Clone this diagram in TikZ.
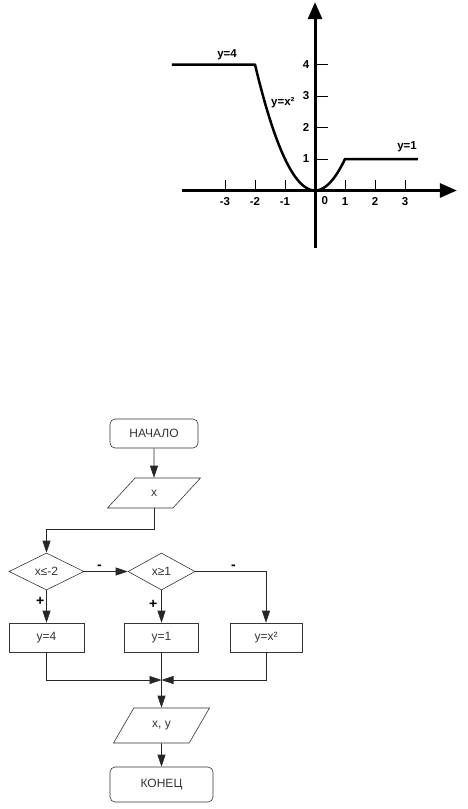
\documentclass[tikz,border=0pt]{standalone}
\usepackage{fontspec}
\setmainfont{Liberation Sans}
\setsansfont{Liberation Sans}
\usetikzlibrary{arrows.meta, shapes.geometric, positioning, calc}

\tikzset{
  blok/.style={draw=black!80, line width=0.6pt, rectangle, minimum width=75pt, minimum height=29pt, inner sep=1pt, text=black!80, font=\fontsize{12}{14}\selectfont},
  termblok/.style={blok, rounded corners=5pt},
  dannye/.style={draw=black!80, line width=0.6pt, trapezium, trapezium left angle=55, trapezium right angle=125, trapezium stretches=true, minimum width=93pt, minimum height=30pt, inner sep=1pt, text=black!80, font=\fontsize{12}{14}\selectfont},
  uslovie/.style={draw=black!80, line width=0.6pt, diamond, minimum width=75pt, minimum height=37pt, inner sep=0pt, text=black!80, font=\fontsize{12}{14}\selectfont},
  strelka/.style={draw=black!85, line width=0.6pt, -{Triangle[length=12pt,width=8pt]}},
  znak/.style={font=\fontsize{14}{16}\bfseries, inner sep=1pt}
}

\begin{document}
\begin{tikzpicture}[x=1pt, y=-1pt, font=\sffamily]
    \useasboundingbox (0,0) rectangle (468,809);

    \begin{scope}[shift={(315,190.5)}, x=30pt, y=31.5pt, font=\fontsize{11.5}{13}\bfseries]
        \draw[line width=3pt, -{Triangle[length=17pt,width=14pt]}] (-4.43,0) -- (4.73,0);
        \draw[line width=3pt, -{Triangle[length=17pt,width=14pt]}] (0,-1.83) -- (0,5.98);

        \foreach \i in {-3,-2,-1,1,2,3}
            \draw[line width=1pt] (\i,0) -- (\i,0.33) node[pos=0, below=3pt] {\i};
        \foreach \j in {1,2,3,4}
            \draw[line width=1pt] (0,\j) -- (0.43,\j) node[pos=0, left=2pt] {\j};
        \node[below right=2pt and 3pt] (nol) at (0,0) {0};

        \draw[line width=2.5pt, line join=round] (-4.77,4) -- (-2,4)
            -- plot[domain=-2:1, samples=50] (\x,{\x*\x}) -- (3.43,1);

        \node (lab4) at (-2.93,4.32) {y=4};
        \node (labx) at (-1.07,2.78) {y=x²};
        \node (lab1) at (3.07,1.38) {y=1};
    \end{scope}

    \node[termblok, minimum width=88pt] (nachalo) at (154,433.5) {НАЧАЛО};
    \node[dannye] (vvod) at (154,493) {x};
    \node[uslovie] (usl1) at (46.5,571.5) {x≤-2};
    \node[uslovie, minimum width=67pt] (usl2) at (161.5,571.5) {x≥1};
    \node[blok] (b1) at (46.5,637.5) {y=4};
    \node[blok, minimum width=74pt] (b2) at (161.5,637.5) {y=1};
    \node[blok, minimum width=72pt] (b3) at (266,637.5) {y=x²};
    \node[dannye, minimum width=96pt, minimum height=35pt] (vyvod) at (161.5,725.5) {x, y};
    \node[termblok, minimum width=103pt, minimum height=35pt] (konec) at (161.5,784.5) {КОНЕЦ};
    \coordinate (sliyanie) at (161.5,680);

    \draw[strelka] (nachalo) -- (vvod);
    \draw[strelka] (vvod.south) -- ++(0,21) -| (usl1.north);
    \draw[strelka] (usl1.east) -- (usl2.west) node[znak, pos=0.35, above=1pt] {-};
    \draw[strelka] (usl2.east) -| (b3.north) node[znak, pos=0.27, above=1pt] {-};
    \draw[strelka] (usl1.south) -- (b1.north) node[znak, pos=0.35, left=1pt] {+};
    \draw[strelka] (usl2.south) -- (b2.north) node[znak, pos=0.45, left=3pt] {+};
    \draw[strelka] (b1.south) |- (sliyanie);
    \draw[strelka] (b3.south) |- (sliyanie);
    \draw[strelka] (b2.south) -- (vyvod.north);
    \draw[strelka] (vyvod) -- (konec);
\end{tikzpicture}
\end{document}
